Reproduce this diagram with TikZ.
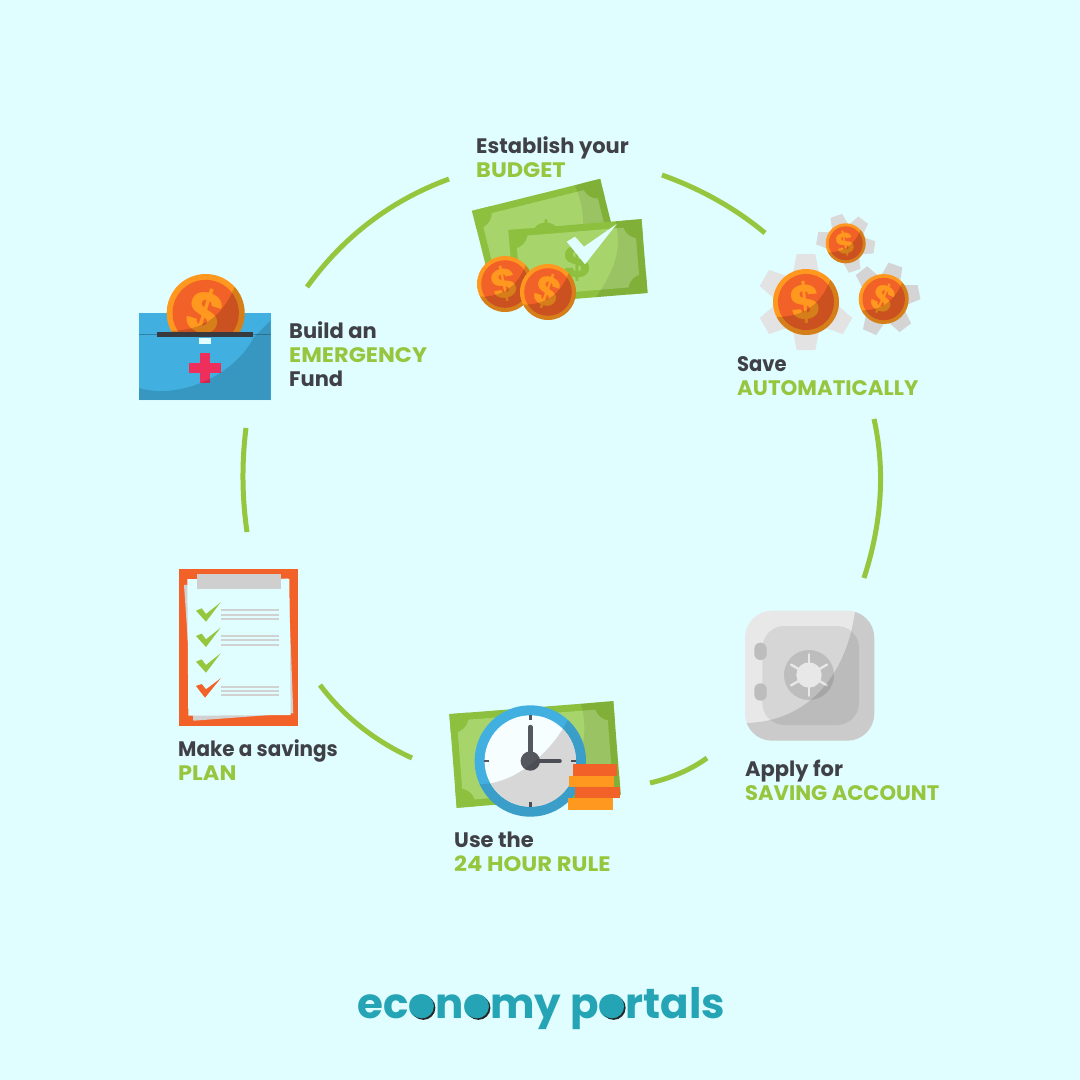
\documentclass[tikz,border=0pt]{standalone}
\usepackage{fontspec}
\usepackage{graphicx}
\usetikzlibrary{calc}
\setmainfont{Poppins}
\definecolor{bgc}{HTML}{E0FDFF}
\definecolor{ink}{HTML}{3F4146}
\definecolor{lime}{HTML}{96C63E}
\definecolor{ringc}{HTML}{FF981F}
\definecolor{coinc}{HTML}{F26127}
\definecolor{billd}{HTML}{8CC03E}
\definecolor{billl}{HTML}{A8D46C}
\definecolor{teal}{HTML}{24A4B5}
\definecolor{bluec}{HTML}{41B0E0}
\definecolor{steel}{HTML}{54575E}
\definecolor{cross}{HTML}{EE2F5C}
\tikzset{
  x=1pt,y=-1pt,
  arcline/.style={draw=lime,line width=5pt},
  lbl/.style={anchor=north west,align=left,inner sep=0pt,text=ink,font=\fontsize{21}{24}\selectfont\bfseries},
  shade/.style={fill=black,opacity=.16},
  paperline/.style={draw=black!18,line width=2pt}
}
\newcommand{\hl}[2][1]{\textcolor{lime}{\scalebox{#1}[1]{#2}}}
\newcommand{\ringarc}[3]{\draw[arcline] (#1) .. controls ($(#1)!.667!(#2)$) and ($(#3)!.667!(#2)$) .. (#3);}
\newcommand{\logofont}{\fontsize{42}{42}\selectfont\bfseries}
\newlength{\logow}
\newlength{\logoa}
\newlength{\logob}
\newlength{\logoc}
\newlength{\logoow}
\newlength{\logooh}
\newlength{\logood}
\AtBeginDocument{%
  \settowidth{\logow}{\logofont economy portals}%
  \settowidth{\logoa}{\logofont ec}%
  \settowidth{\logob}{\logofont econ}%
  \settowidth{\logoc}{\logofont economy p}%
  \settowidth{\logoow}{\logofont o}%
  \settoheight{\logooh}{\logofont o}%
  \settodepth{\logood}{\logofont o}%
}
% advance before the letter o: fills the o with a solid disc and a dark crescent
\newcommand{\logodisc}[1]{%
  \pgfmathsetmacro{\cxx}{541-\the\logow/2+\the#1+\the\logoow/2}%
  \pgfmathsetmacro{\rad}{(\the\logooh+\the\logood)/2}%
  \pgfmathsetmacro{\cyy}{1018-\the\logooh+\rad}%
  \fill[black!85] (\cxx+1.5,\cyy+1.5) circle[radius=\rad pt];
  \fill[teal] (\cxx,\cyy) circle[radius=\rad pt];
}
% name, x, y, r, rotation
\newcommand{\moneycoin}[5]{%
  \begin{scope}[shift={(#2,#3)}]
    \fill[ringc] (0,0) circle[radius=#4pt];
    \fill[coinc] (0,0) circle[radius=.85*#4pt];
    \node[inner sep=0pt,rotate=#5,scale=#4/33,text=ringc,font=\fontsize{48}{48}\selectfont\bfseries] (#1) at (0,0) {\$};
    \begin{scope}
      \clip (0,0) circle[radius=#4pt];
      \fill[shade] (-1.1*#4,.45*#4) .. controls (-.2*#4,.5*#4) and (.4*#4,.2*#4) .. (.75*#4,-.7*#4)
        -- (1.2*#4,-1.2*#4) -- (1.2*#4,1.2*#4) -- (-1.1*#4,1.2*#4) -- cycle;
    \end{scope}
  \end{scope}}
% name, x, y, w, h, rotation
\newcommand{\moneybill}[6]{%
  \begin{scope}[shift={(#2,#3)},rotate=#6]
    \fill[billd] (-#4/2,-#5/2) rectangle (#4/2,#5/2);
    \fill[billl] (-#4/2+7,-#5/2+7) rectangle (#4/2-7,#5/2-7);
    \begin{scope}
      \clip (-#4/2,-#5/2) rectangle (#4/2,#5/2);
      \foreach \sx/\sy in {-1/-1,1/-1,-1/1,1/1}
        \fill[billd] (\sx*#4/2-\sx*3,\sy*#5/2-\sy*3) circle[radius=16pt];
    \end{scope}
    \node[inner sep=0pt,text=billd,font=\fontsize{44}{44}\selectfont\bfseries] (#1) at (0,0) {\$};
    \begin{scope}
      \clip (-#4/2,-#5/2) rectangle (#4/2,#5/2);
      \fill[black,opacity=.08] (.1*#4,#5/2+2) .. controls (.25*#4,.2*#5) and (.35*#4,-.1*#5) .. (.3*#4,-#5/2-2)
        -- (#4/2+2,-#5/2-2) -- (#4/2+2,#5/2+2) -- cycle;
    \end{scope}
  \end{scope}}
% centre x, y, radius, tooth half width, angle list, colour
\newcommand{\gearteeth}[6]{%
  \foreach \a in {#5}
    \fill[#6,shift={(#1,#2)},rotate=\a] (.6*#3,-#4) -- (#3,-.72*#4) -- (#3,.72*#4) -- (.6*#3,#4) -- cycle;}
\begin{document}
\begin{tikzpicture}
\useasboundingbox (0,0) rectangle (1080,1080);
\fill[bgc] (0,0) rectangle (1080,1080);

% ring connectors
\coordinate (r1a) at (307,287); \coordinate (r1c) at (362,211); \coordinate (r1b) at (449,179);
\coordinate (r2a) at (662,175); \coordinate (r2c) at (720.5,196); \coordinate (r2b) at (765,233);
\coordinate (r3a) at (874,419); \coordinate (r3c) at (891,495); \coordinate (r3b) at (864,578);
\coordinate (r4a) at (707,758); \coordinate (r4c) at (683.5,775); \coordinate (r4b) at (650,783);
\coordinate (r5a) at (412,758); \coordinate (r5c) at (356,732.5); \coordinate (r5b) at (320,685);
\coordinate (r6a) at (247,532); \coordinate (r6c) at (239.5,480); \coordinate (r6b) at (246,428);
\ringarc{r1a}{r1c}{r1b}
\ringarc{r2a}{r2c}{r2b}
\ringarc{r3a}{r3c}{r3b}
\ringarc{r4a}{r4c}{r4b}
\ringarc{r5a}{r5c}{r5b}
\ringarc{r6a}{r6c}{r6b}

% budget icon
\moneybill{bb1}{547}{238.5}{132}{90}{14}
\moneybill{bb2}{578}{261.5}{133.5}{74}{4.7}
\fill[bgc] (566.7,241.7) -- (575,236.7) -- (584,246.7) -- (616.7,224) -- (585,264.3) -- cycle;
\moneycoin{cb1}{505}{284}{28}{12}
\moneycoin{cb2}{548}{292}{28}{-20}

% gears icon
\gearteeth{806}{302}{48}{13}{90,150,210,270,330}{black!11}
\gearteeth{845.7}{243.3}{29}{8.5}{109,53,-8,-72,170}{black!15}
\gearteeth{883.7}{299}{36}{10}{128,71,11,-53,-113}{black!17}
\moneycoin{cg1}{806}{302}{33}{5}
\moneycoin{cg2}{845.7}{243.3}{20}{12}
\moneycoin{cg3}{883.7}{299}{25}{-25}

% emergency box
\fill[bluec] (139,313) rectangle (270.7,400);
\draw[black!25!bluec,line width=.6pt] (139,334) -- (270.7,334);
\begin{scope}
  \clip (150,260) rectangle (260,333);
  \moneycoin{ce}{205.7}{313}{39}{-18}
\end{scope}
\fill[ink!90!black] (157.3,331.7) rectangle (252.7,337.3);
\fill[bgc] (199.3,337.7) rectangle (211,344);
\fill[cross] (200,352.7) rectangle (210,383.3);
\fill[cross] (189.3,363.3) rectangle (220.7,373.3);
\begin{scope}
  \clip (139,313) rectangle (270.7,400);
  \fill[black,opacity=.14] (139,388) .. controls (180,400) and (235,375) .. (254,337)
    -- (271,320) -- (271,400) -- (139,400) -- cycle;
\end{scope}

% clipboard
\fill[coinc] (178.7,568.7) rectangle (298,725.7);
\fill[black!18] (184,585) -- (288.3,578.3) -- (293.3,713.3) -- (193.3,720.7) -- cycle;
\fill[bgc] (187.3,579) -- (289.3,579) -- (290.7,715) -- (188.3,715.7) -- cycle;
\fill[black!19] (197.3,574) rectangle (280.7,589.3);
\foreach \dy in {0,25.3,51}
  \fill[lime,yshift=-\dy pt] (196,610.7) -- (201.7,608.3) -- (206,614) -- (220.7,602.3) -- (206,621.7) -- cycle;
\fill[coinc] (196,686) -- (201.7,684) -- (206,689.3) -- (220.7,678.3) -- (205,697.7) -- cycle;
\foreach \ly in {610,615,619.3,635.7,640,644.7,686.7,691,695.3}
  \draw[paperline] (221,\ly) -- (279.3,\ly);

% clock
\moneybill{bc}{535}{754.5}{164.5}{94}{4.5}
\fill[bluec] (530.3,761) circle[radius=55.7pt];
\fill[white!70!bgc] (530.3,761) circle[radius=45.7pt];
\begin{scope}
  \clip (530.3,761) circle[radius=45.7pt];
  \fill[black!6] (480,784) .. controls (515,785) and (555,750) .. (570,715)
    -- (590,700) -- (590,820) -- (470,820) -- cycle;
\end{scope}
\foreach \a in {0,90,180,270}
  \draw[steel,line width=2.4pt,shift={(530.3,761)},rotate=\a] (41,0) -- (46,0);
\draw[steel,line width=4.5pt,line cap=round] (530.3,761) -- (530.3,727);
\draw[steel,line width=3.5pt,line cap=round] (530.3,761) -- (560,761);
\fill[steel] (530.3,761) circle[radius=9.7pt];
\begin{scope}
  \clip (530.3,761) circle[radius=55.7pt];
  \fill[black,opacity=.1] (480,784) .. controls (515,785) and (555,750) .. (570,715)
    -- (590,700) -- (590,820) -- (470,820) -- cycle;
\end{scope}
\fill[coinc] (572.7,764.3) rectangle (617.3,775.7);
\fill[ringc] (569,775.7) rectangle (614,787);
\fill[coinc] (575,787) rectangle (620,798.3);
\fill[ringc] (568,798.3) rectangle (612.7,809.7);

% safe
\fill[black!9,rounded corners=27pt] (745,610.7) rectangle (874.3,740.7);
\fill[black!16,rounded corners=22pt] (762.3,626) rectangle (859,725);
\fill[black!26,rounded corners=6pt] (754.3,642.7) rectangle (766.7,660);
\fill[black!26,rounded corners=6pt] (754.3,683.3) rectangle (766.7,700.7);
\fill[black!26] (809,675) circle[radius=25pt];
\foreach \a in {30,90,150,210,270,330}
  \draw[black!9,line width=2.4pt,line cap=round,shift={(809,675)},rotate=\a] (0,0) -- (20.7,0);
\fill[black!9] (809,675) circle[radius=12.7pt];
\begin{scope}
  \clip[rounded corners=27pt] (745,610.7) rectangle (874.3,740.7);
  \fill[black,opacity=.12] (745,723) .. controls (805,722) and (845,680) .. (855,612)
    -- (880,605) -- (880,745) -- (740,745) -- cycle;
\end{scope}

% labels
\node[lbl] (budget) at (476,136) {Establish your\\\hl[1.07]{BUDGET}};
\node[lbl] (fund) at (289,321) {Build an\\\hl[1.07]{EMERGENCY}\\Fund};
\node[lbl] (auto) at (737,356) {\scalebox{.93}[1]{Save}\\\hl[1.017]{AUTOMATICALLY}};
\node[lbl] (account) at (745,760) {Apply for\\\hl[1.005]{SAVING ACCOUNT}};
\node[lbl] (rule) at (454,832) {Use the\\\hl[1.076]{24 HOUR RULE}};
\node[lbl] (plan) at (178,739) {\scalebox{.95}[1]{Make a savings}\\\hl[1.07]{PLAN}};

% logo
\node[anchor=base,inner sep=0pt,text=teal,font=\logofont] (logo) at (541,1018) {economy portals};
\logodisc{\logoa}
\logodisc{\logob}
\logodisc{\logoc}
\end{tikzpicture}
\end{document}
